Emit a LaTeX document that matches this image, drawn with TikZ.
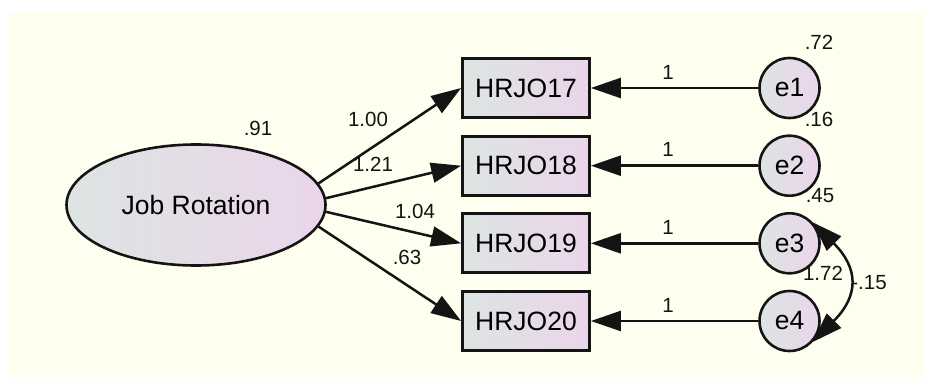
\documentclass[tikz,border=0pt]{standalone}
\usepackage{fontspec}
\setmainfont{Liberation Sans}
\usetikzlibrary{arrows.meta,shapes.geometric}
\definecolor{canvas}{RGB}{254,255,238}
\definecolor{fillL}{RGB}{221,228,226}
\definecolor{fillR}{RGB}{235,213,235}
\definecolor{ink}{RGB}{20,20,20}

\begin{document}
\begin{tikzpicture}[x=1pt,y=1pt,
  shadefill/.style={left color=fillL, right color=fillR, draw=ink},
  latent/.style={ellipse, shadefill, line width=2.6pt, minimum width=259pt,
    minimum height=121pt, inner sep=0pt, font=\fontsize{26.5}{29}\selectfont},
  observed/.style={rectangle, shadefill, line width=2.8pt, minimum width=127pt,
    minimum height=59pt, inner sep=0pt, font=\fontsize{26.5}{29}\selectfont},
  errvar/.style={circle, shadefill, line width=2.6pt, minimum size=60pt,
    inner sep=0pt, font=\fontsize{26.5}{29}\selectfont},
  bighead/.tip={Triangle[length=30pt 0 0,width=20pt 0 0]},
  regpath/.style={line width=2.5pt, draw=ink, -bighead},
  covpath/.style={line width=2.5pt, draw=ink, bighead-bighead},
  est/.style={font=\fontsize{20.5}{23}\selectfont, text=ink, inner sep=0pt}
]
% page and canvas
\useasboundingbox (0,0) rectangle (925,378);
\fill[white] (0,0) rectangle (925,378);
\fill[canvas] (8,0) rectangle (925,365);

% latent factor
\node[latent] (jr) at (196,173) {Job Rotation};
\node[est] (vjr) at (258,250) {.91};

% indicators
\node[observed] (h17) at (526,290) {HRJO17};
\node[observed] (h18) at (526,212.3) {HRJO18};
\node[observed] (h19) at (526,134.7) {HRJO19};
\node[observed] (h20) at (526,57) {HRJO20};

% error terms
\node[errvar] (e1) at (789.5,290) {e1};
\node[errvar] (e2) at (789.5,212.3) {e2};
\node[errvar] (e3) at (789.5,134.7) {e3};
\node[errvar] (e4) at (789.5,57) {e4};

% loadings
\draw[regpath] (jr.10) -- (h17.west);
\draw[regpath] (jr.3.5) -- (h18.west);
\draw[regpath] (jr.-3.5) -- (h19.west);
\draw[regpath] (jr.-10) -- (h20.west);
\node[est] (l17) at (368,259) {1.00};
\node[est] (l18) at (373,214) {1.21};
\node[est] (l19) at (415,167) {1.04};
\node[est] (l20) at (407,121) {.63};

% error paths
\draw[regpath] (e1.west) -- (h17.east);
\draw[regpath] (e2.west) -- (h18.east);
\draw[regpath] (e3.west) -- (h19.east);
\draw[regpath] (e4.west) -- (h20.east);
\node[est] (w1) at (668,306) {1};
\node[est] (w2) at (668,229) {1};
\node[est] (w3) at (668,151) {1};
\node[est] (w4) at (668,73) {1};

% error variances
\node[est] (v1) at (819,336) {.72};
\node[est] (v2) at (819,259) {.16};
\node[est] (v3) at (820,182) {.45};
\node[est] (v4) at (823,105) {1.72};

% error covariance
\draw[covpath] (e3.42) to[out=-45,in=45,looseness=1.4] (e4.-42);
\node[est] (c34) at (869,95) {-.15};
\end{tikzpicture}
\end{document}
